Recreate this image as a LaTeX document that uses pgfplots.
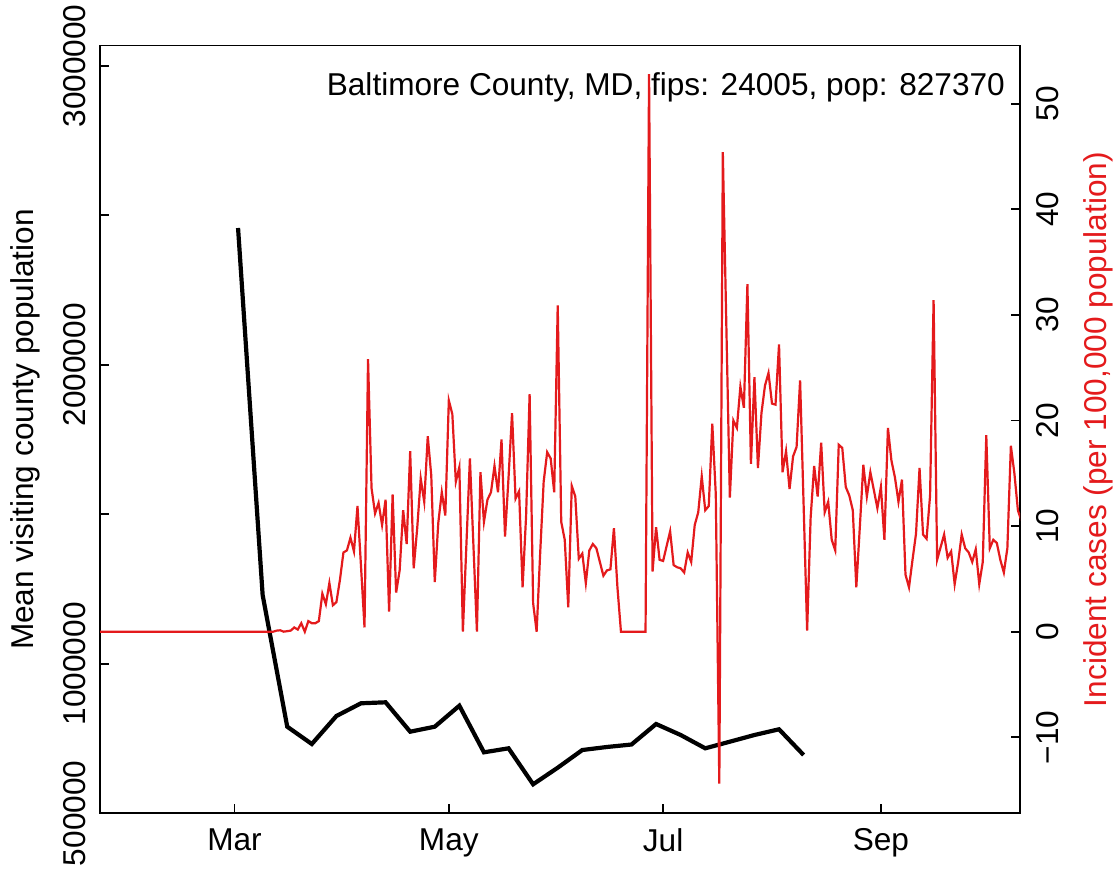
\documentclass[border=0pt]{standalone}
\usepackage{pgfplots}
\pgfplotsset{compat=1.18}
\usepackage{fontspec}
\setmainfont{Liberation Sans}
\definecolor{rred}{HTML}{E41A1C}
\tikzset{tfont/.style={font=\fontsize{15.8}{18}\selectfont}}
\begin{document}
\fontsize{15.8}{18}\selectfont
\begin{tikzpicture}
\path[use as bounding box] (0pt,0pt) rectangle (559.5pt,434pt);
\begin{axis}[
  at={(50pt,27.35pt)}, anchor=south west,
  scale only axis, width=460pt, height=383.85pt,
  xmin=-38.3, xmax=223.6, ymin=500000, ymax=3068000,
  scaled y ticks=false,
  clip mode=individual,
  axis line style={line width=0.9pt},
  every tick/.style={black, line width=0.9pt},
  tick align=inside, major tick length=4.5pt,
  xtick={0,61,122,184}, xticklabels={Mar,May,Jul,Sep},
  xtick pos=bottom, ytick pos=left,
  ytick={500000,1000000,1500000,2000000,2500000,3000000},
  yticklabels={500000,1000000,,2000000,,3000000},
  tick label style={tfont},
  label style={tfont},
  yticklabel style={rotate=90, anchor=south, inner sep=0pt},
  yticklabel shift=7pt,
  xticklabel style={anchor=north, inner sep=0pt},
  xticklabel shift=7.5pt,
  ylabel={Mean visiting county population},
  ylabel style={at={(rel axis cs:0,0.5)}, anchor=center, yshift=37.5pt},
]
\addplot[black, line width=2.1pt] table {
x y
1 2457900
8 1230200
15 789700
22 731800
29 825500
36 868000
43 871300
50 773000
57 789700
64 859900
71 704000
78 717400
85 597000
92 652500
99 711700
106 721800
113 730100
120 798700
127 761900
134 717400
141 739500
148 761900
155 781000
162 695000
};
\node[anchor=east, inner sep=0pt, tfont] at (rel axis cs:0.984,0.945) {Baltimore County, MD, fips: 24005, pop: 827370};
\end{axis}
\begin{axis}[
  at={(50pt,27.35pt)}, anchor=south west,
  scale only axis, width=460pt, height=383.85pt,
  xmin=-38.3, xmax=223.6, ymin=-17.2, ymax=55.5,
  axis x line=none, axis y line*=right,
  axis line style={line width=0.9pt},
  every tick/.style={black, line width=0.9pt},
  tick align=inside, major tick length=4.5pt,
  ytick={-10,0,10,20,30,40,50},
  yticklabels={−10,0,10,20,30,40,50},
  tick label style={tfont},
  label style={tfont},
  yticklabel style={rotate=90, anchor=north, inner sep=0pt},
  yticklabel shift=8pt,
  ylabel={Incident cases (per 100,000 population)},
  ylabel style={at={(rel axis cs:1,0.5)}, anchor=center, yshift=-39pt, text=rred},
]
\addplot[rred, line width=1.1pt] table {
x y
-39 0
11 0
12 0.1
13 0.13
14 0
15 0.05
16 0.1
17 0.4
18 0.2
19 0.8
20 0
21 1.0
22 0.8
23 0.8
24 1.0
25 3.6
26 2.6
27 4.6
28 2.5
29 2.8
30 4.9
31 7.5
32 7.7
33 8.9
34 7.6
35 11.9
36 6.2
37 0.4
38 25.8
39 13.6
40 11.2
41 12.2
42 10.1
43 12.5
44 1.9
45 13.0
46 3.7
47 5.8
48 11.5
49 8.3
50 17.1
51 6.0
52 9.8
53 14.5
54 12.3
55 18.5
56 14.8
57 4.7
58 10.3
59 13.2
60 11.0
61 21.9
62 20.6
63 14.2
64 15.6
65 0
66 8.2
67 16.4
68 8.2
69 0
70 15.1
71 10.4
72 12.5
73 13.2
74 15.7
75 13.2
76 18.2
77 9.0
78 14.6
79 20.7
80 12.6
81 13.3
82 4.2
83 11
84 22.5
85 2.7
86 0
87 7.4
88 14.2
89 17.0
90 16.4
91 13.2
92 30.9
93 10.4
94 8.7
95 2.3
96 13.8
97 12.8
98 6.9
99 7.4
100 4.6
101 7.7
102 8.3
103 7.9
104 6.6
105 5.3
106 5.8
107 5.9
108 9.8
109 4.2
110 0
111 0
112 0
113 0
114 0
115 0
116 0
117 0
118 52.8
119 5.7
120 9.9
121 6.8
122 6.7
123 8.1
124 9.5
125 6.3
126 6.1
127 6.0
128 5.6
129 7.5
130 6.6
131 10.1
132 11.3
133 14.7
134 11.5
135 11.9
136 19.7
137 13.0
138 -14.4
139 45.4
140 29
141 12.7
142 20.0
143 19.3
144 23.2
145 21.2
146 32.9
147 15.9
148 24.1
149 15.5
150 20.7
151 23.3
152 24.5
153 21.6
154 21.5
155 27.2
156 15.1
157 17.1
158 13.5
159 16.6
160 17.5
161 23.8
162 12
163 0.1
164 10.8
165 15.7
166 12.8
167 17.9
168 11.3
169 12.3
170 8.7
171 7.7
172 17.7
173 17.4
174 13.7
175 12.9
176 11.5
177 4.2
178 9.9
179 15.8
180 12.8
181 15.1
182 13.4
183 11.7
184 13.7
185 8.7
186 19.3
187 16.2
188 14.6
189 12.3
190 14.4
191 5.4
192 4.2
193 6.8
194 9.3
195 15.5
196 9.2
197 8.8
198 12.9
199 31.4
200 6.8
201 8.0
202 9.2
203 7.0
204 7.6
205 4.5
206 6.6
207 9.2
208 7.9
209 7.5
210 6.6
211 7.8
212 4.5
213 6.6
214 18.6
215 7.9
216 8.7
217 8.4
218 6.8
219 5.6
220 7.9
221 17.6
222 15.0
223 11.5
224 10.5
};
\end{axis}
\end{tikzpicture}
\end{document}
